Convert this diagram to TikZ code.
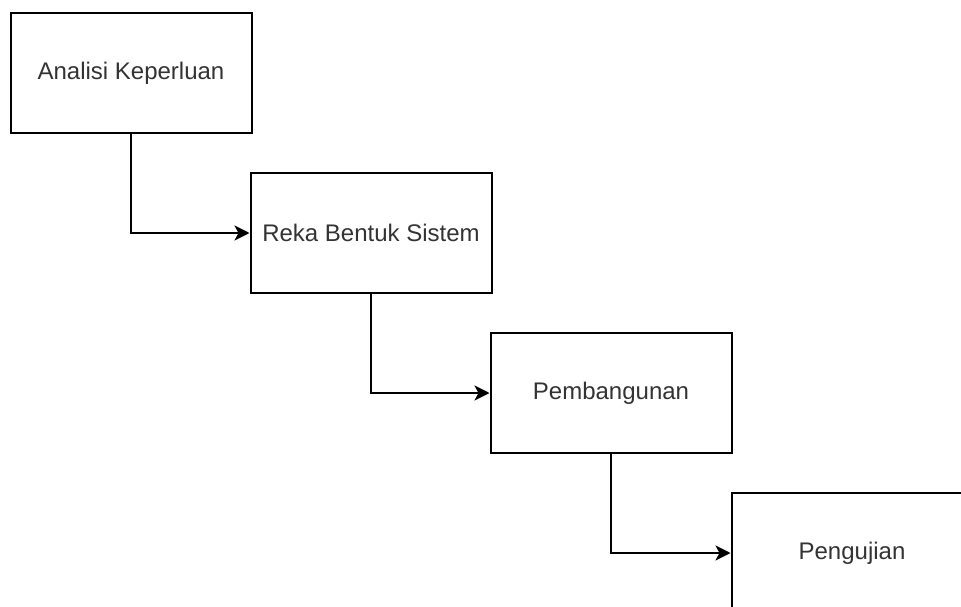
\documentclass[tikz,border=0pt]{standalone}
\usepackage{fontspec}
\setmainfont{Liberation Sans}
\usetikzlibrary{arrows.meta}
\definecolor{txt}{HTML}{333333}
\begin{document}
\begin{tikzpicture}[x=1pt,y=-1pt,
  stagebox/.style={draw=black,line width=2pt,minimum width=241pt,minimum height=120pt,inner sep=0pt,text=txt,font=\fontsize{24}{28}\selectfont},
  flow/.style={draw=black,line width=2pt,-{Stealth[length=15pt,width=15pt,inset=4pt]}}]
\useasboundingbox (0,0) rectangle (961,607);
\node[stagebox] (a) at (131,73) {Analisi Keperluan};
\node[stagebox] (b) at (371,233) {Reka Bentuk Sistem};
\node[stagebox] (c) at (611,393) {Pembangunan};
\node[stagebox] (d) at (852,553) {Pengujian};
\draw[flow] (a.south) |- (b.west);
\draw[flow] (b.south) |- (c.west);
\draw[flow] (c.south) |- (d.west);
\end{tikzpicture}
\end{document}
